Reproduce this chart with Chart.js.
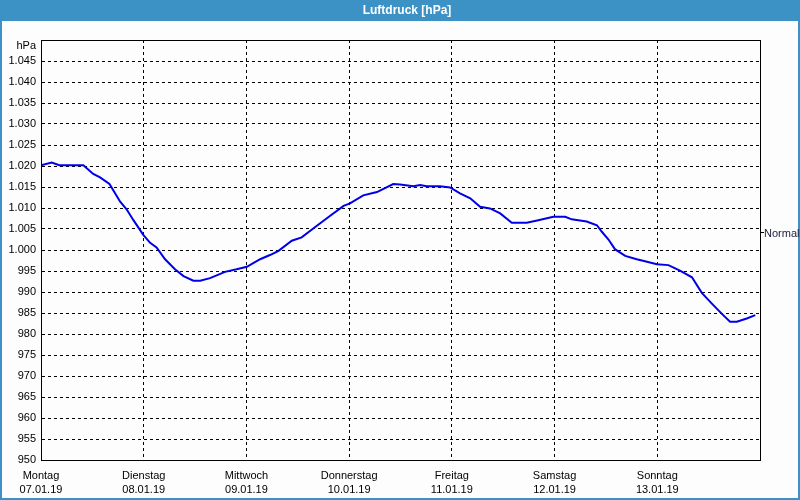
<!DOCTYPE html>
<html>
<head>
<meta charset="utf-8">
<script src="https://cdn.jsdelivr.net/npm/chart.js@4/dist/chart.umd.min.js"></script>
<style>
  html, body { margin: 0; padding: 0; background: #fcfdfc; }
  #wrap { width: 800px; height: 500px; position: relative; }
</style>
</head>
<body>
<div id="wrap"><canvas id="c" width="800" height="500"></canvas></div>
<script>
// ---- data (hours since Montag 07.01.19 00:00, pressure in hPa) ----
const hours = [0, 2.5, 4.3, 9.9, 12.2, 13.8, 16.0, 18.5, 20.0, 21.6, 23.9, 25.5, 27.0, 29.0, 31.3, 33.3, 35.6, 37.2, 39.5, 43.0, 45.7, 48.1, 51.2, 53.5, 55.5, 58.6, 60.9, 64.0, 67.5, 70.7, 72.2, 75.3, 78.5, 82.3, 83.9, 87.0, 88.6, 90.1, 93.2, 95.6, 97.9, 100.3, 102.6, 104.9, 107.3, 110.0, 113.5, 116.2, 119.7, 122.5, 124.0, 127.5, 129.9, 131.0, 132.6, 134.1, 136.5, 139.2, 141.6, 143.9, 146.6, 149.3, 152.1, 154.4, 156.7, 159.1, 161.0, 162.6, 164.9, 166.9];
const pressure = [1020.2, 1020.8, 1020.2, 1020.2, 1018.1, 1017.3, 1015.7, 1011.5, 1009.7, 1007.1, 1003.6, 1001.7, 1000.6, 997.8, 995.4, 993.8, 992.7, 992.7, 993.3, 994.8, 995.4, 996.0, 997.8, 998.8, 999.8, 1002.2, 1003.0, 1005.4, 1008.1, 1010.5, 1011.1, 1013.0, 1013.8, 1015.7, 1015.6, 1015.2, 1015.5, 1015.2, 1015.2, 1014.9, 1013.5, 1012.3, 1010.3, 1009.9, 1008.7, 1006.5, 1006.5, 1007.1, 1007.9, 1007.9, 1007.3, 1006.8, 1005.9, 1004.4, 1002.5, 1000.2, 998.6, 997.8, 997.2, 996.6, 996.4, 995.1, 993.5, 989.8, 987.3, 984.8, 982.9, 982.9, 983.7, 984.5];
const dayNames = ['Montag', 'Dienstag', 'Mittwoch', 'Donnerstag', 'Freitag', 'Samstag', 'Sonntag'];
const dayDates = ['07.01.19', '08.01.19', '09.01.19', '10.01.19', '11.01.19', '12.01.19', '13.01.19'];
const titleText = 'Luftdruck [hPa]';
const unitLabel = 'hPa';
const normalLabel = 'Normal';
const normalValue = 1004.2;
const yMin = 950, yMax = 1050, yStep = 5;
const xMin = 0, xMax = 168, xStep = 24;

const FONT = '"Liberation Sans", Arial, sans-serif';
const BAR = '#3c92c4';

const decor = {
  id: 'decor',
  beforeDraw(chart) {
    const ctx = chart.ctx;
    ctx.save();
    ctx.fillStyle = '#fcfdfc';
    ctx.fillRect(0, 0, 800, 500);
    ctx.fillStyle = BAR;
    ctx.fillRect(0, 0, 800, 21);
    // outer border
    ctx.strokeStyle = BAR;
    ctx.lineWidth = 2;
    ctx.beginPath();
    ctx.moveTo(1, 20); ctx.lineTo(1, 499); ctx.lineTo(799, 499); ctx.lineTo(799, 20);
    ctx.stroke();
    // title
    ctx.fillStyle = '#ffffff';
    ctx.font = 'bold 12px ' + FONT;
    ctx.textAlign = 'center';
    ctx.textBaseline = 'middle';
    ctx.fillText(titleText, 407, 10.5);
    ctx.restore();
  },
  afterDraw(chart) {
    const ctx = chart.ctx;
    const a = chart.chartArea;
    const y = chart.scales.y;
    ctx.save();
    ctx.strokeStyle = '#000';
    ctx.lineWidth = 1;
    ctx.setLineDash([]);
    ctx.strokeRect(Math.round(a.left) + 0.5, Math.round(a.top) + 0.5, Math.round(a.right - a.left), Math.round(a.bottom - a.top));
    // unit label
    ctx.fillStyle = '#000';
    ctx.font = '11px ' + FONT;
    ctx.textAlign = 'right';
    ctx.textBaseline = 'middle';
    ctx.fillText(unitLabel, 36, 46);
    // Normal marker
    const py = Math.round(y.getPixelForValue(normalValue)) + 0.5;
    ctx.beginPath();
    ctx.moveTo(a.right, py); ctx.lineTo(a.right + 4, py);
    ctx.stroke();
    ctx.fillStyle = '#1c1c3c';
    ctx.textAlign = 'left';
    ctx.fillText(normalLabel, a.right + 4, py + 1);
    ctx.restore();
  }
};

new Chart(document.getElementById('c'), {
  type: 'line',
  data: {
    datasets: [{
      label: titleText,
      data: hours.map((h, i) => ({ x: h, y: pressure[i] })),
      borderColor: '#0000e6',
      borderWidth: 2,
      pointRadius: 0,
      tension: 0,
      fill: false
    }]
  },
  options: {
    responsive: false,
    animation: false,
    devicePixelRatio: 1,
    layout: { padding: { top: 40, right: 40, left: 0, bottom: 0 } },
    plugins: { legend: { display: false }, title: { display: false }, tooltip: { enabled: false } },
    scales: {
      x: {
        type: 'linear',
        min: xMin, max: xMax,
        afterFit(s) { s.height = 40; },
        afterBuildTicks(s) {
          s.ticks = [];
          for (let v = xMin; v <= xMax; v += xStep) s.ticks.push({ value: v });
        },
        ticks: {
          autoSkip: false, maxRotation: 0, minRotation: 0,
          padding: 8,
          color: '#000',
          font: { family: FONT, size: 11, lineHeight: 1.36 },
          callback(v) {
            const i = Math.round(v / xStep);
            return i < dayNames.length ? [dayNames[i], dayDates[i]] : '';
          }
        },
        grid: { color: '#000', lineWidth: 1, drawTicks: false, borderDash: [3, 3] },
        border: { display: true, color: '#000', width: 1, dash: [3, 3] }
      },
      y: {
        type: 'linear',
        min: yMin, max: yMax,
        afterFit(s) { s.width = 41; },
        ticks: {
          stepSize: yStep,
          padding: 5,
          color: '#000',
          font: { family: FONT, size: 11 },
          callback(v) {
            if (v >= yMax) return '';
            return v >= 1000 ? '1.' + String(v).slice(1) : String(v);
          }
        },
        grid: { color: '#000', lineWidth: 1, drawTicks: false, borderDash: [3, 3] },
        border: { display: true, color: '#000', width: 1, dash: [3, 3] }
      }
    }
  },
  plugins: [decor]
});
</script>
</body>
</html>
